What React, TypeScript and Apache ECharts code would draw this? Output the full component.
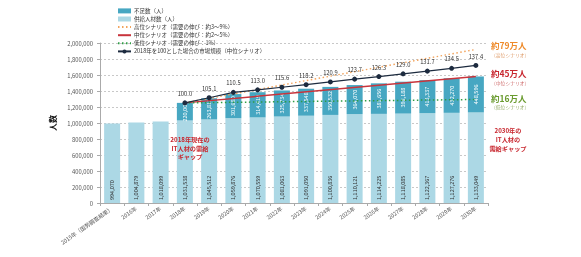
import React, { useEffect, useRef } from "react";
import * as echarts from "echarts";

const years = [
  "2015年（国勢調査結果）", "2016年", "2017年", "2018年", "2019年", "2020年", "2021年", "2022年",
  "2023年", "2024年", "2025年", "2026年", "2027年", "2028年", "2029年", "2030年",
];
const supply = [
  994070, 1004879, 1018099, 1031538, 1045512, 1059876, 1070559, 1081063,
  1091050, 1100836, 1110121, 1114225, 1118085, 1122367, 1127276, 1133049,
];
const shortage = [
  null, null, null, 220000, 263813, 301680, 314419, 325734,
  337548, 350532, 364070, 381656, 398188, 413337, 432270, 448596,
];
// demand under each scenario (2018 actual, 2030 projection)
const highScenario = [null, null, null, 1251538, null, null, null, null, null, null, null, null, null, null, null, 1920049];
const midScenario = [null, null, null, 1251538, null, null, null, null, null, null, null, null, null, null, null, 1581645];
const lowScenario = [null, null, null, 1251538, null, null, null, null, null, null, null, null, null, null, null, 1294049];
// market size index, 2018 = 100
const marketIndex = [null, null, null, 100.0, 105.1, 110.5, 113.0, 115.6, 118.2, 120.9, 123.7, 126.3, 129.0, 131.7, 134.5, 137.4];

const FONT = "'Noto Sans CJK JP', 'Noto Sans', sans-serif";
const AXIS_MAX = 2000000;
const BASE_2018 = 1251538;

const fmt = (v: number) => v.toLocaleString("en-US");
const noSymbol = { color: "rgba(0,0,0,0)", borderWidth: 0, opacity: 0 };

export default function App() {
  const ref = useRef<HTMLDivElement>(null);
  useEffect(() => {
    if (!ref.current) return;
    const chart = echarts.init(ref.current, null, { renderer: "svg" });
    const txt = (text: string, x: number, y: number, fill: string, size: number, bold = true, align = "left") => ({
      type: "text",
      x,
      y,
      z: 100,
      style: {
        text,
        fill,
        font: `${bold ? "bold " : ""}${size}px ${FONT}`,
        textAlign: align,
        textVerticalAlign: "middle",
      },
    });
    chart.setOption({
      animation: false,
      textStyle: { fontFamily: FONT },
      grid: { left: 100, top: 43, width: 388, height: 160 },
      legend: {
        orient: "vertical",
        left: 112,
        top: 3,
        itemWidth: 13,
        itemHeight: 5,
        itemGap: 2.3,
        textStyle: { fontSize: 5.5, color: "#333", lineHeight: 5.8, padding: [0, 0, 0, -2] },
        data: [
          { name: "不足数（人）", icon: "rect" },
          { name: "供給人材数（人）", icon: "rect" },
          { name: "高位シナリオ（需要の伸び：約3～9%）", itemStyle: noSymbol },
          { name: "中位シナリオ（需要の伸び：約2～5%）", itemStyle: noSymbol },
          { name: "低位シナリオ（需要の伸び：1%）", itemStyle: noSymbol },
          "2018年を100とした場合の市場規模（中位シナリオ）",
        ],
      },
      xAxis: {
        type: "category",
        data: years,
        axisLine: { lineStyle: { color: "#aaa" } },
        axisTick: { show: true, lineStyle: { color: "#aaa" }, length: 3 },
        axisLabel: { rotate: 35, fontSize: 5.5, color: "#555", margin: 5, interval: 0 },
      },
      yAxis: [
        {
          type: "value",
          min: 0,
          max: AXIS_MAX,
          interval: 200000,
          name: "人数",
          nameLocation: "middle",
          nameRotate: 90,
          nameGap: 34,
          nameTextStyle: { fontSize: 8, fontWeight: "bold", color: "#111" },
          axisLine: { show: true, lineStyle: { color: "#aaa" } },
          axisTick: { show: true, length: 3, lineStyle: { color: "#aaa" } },
          axisLabel: { fontSize: 5.8, color: "#555", margin: 7, formatter: (v: number) => fmt(v) },
          splitLine: { lineStyle: { color: "#c8c8c8", type: [2, 2] } },
        },
        {
          type: "value",
          min: 0,
          max: (100 * AXIS_MAX) / BASE_2018,
          show: false,
          splitLine: { show: false },
        },
      ],
      series: [
        {
          name: "供給人材数（人）",
          type: "bar",
          stack: "total",
          data: supply,
          barCategoryGap: "34%",
          itemStyle: { color: "#acd8e5" },
          label: {
            show: true,
            position: "insideBottom",
            rotate: 90,
            align: "left",
            verticalAlign: "middle",
            distance: 3,
            fontSize: 5.5,
            color: "#333",
            formatter: (p: any) => fmt(p.value),
          },
        },
        {
          name: "不足数（人）",
          type: "bar",
          stack: "total",
          data: shortage,
          itemStyle: { color: "#47a7c2" },
          label: {
            show: true,
            position: "inside",
            rotate: 90,
            fontSize: 5.5,
            color: "#fff",
            formatter: (p: any) => (p.value == null ? "" : fmt(p.value)),
          },
        },
        {
          name: "高位シナリオ（需要の伸び：約3～9%）",
          type: "line",
          data: highScenario,
          connectNulls: true,
          symbol: "none",
          lineStyle: { color: "#f2a35c", width: 1.4, type: [1.5, 2.5] },
          itemStyle: { color: "#f2a35c" },
        },
        {
          name: "中位シナリオ（需要の伸び：約2～5%）",
          type: "line",
          data: midScenario,
          connectNulls: true,
          symbol: "none",
          lineStyle: { color: "#c8343c", width: 1.5 },
          itemStyle: { color: "#c8343c" },
        },
        {
          name: "低位シナリオ（需要の伸び：1%）",
          type: "line",
          data: lowScenario,
          connectNulls: true,
          symbol: "none",
          lineStyle: { color: "#2f9c45", width: 1.5, type: [1.5, 2.5] },
          itemStyle: { color: "#2f9c45" },
        },
        {
          name: "2018年を100とした場合の市場規模（中位シナリオ）",
          type: "line",
          yAxisIndex: 1,
          data: marketIndex,
          symbol: "circle",
          symbolSize: 5,
          z: 10,
          lineStyle: { color: "#1d2b3f", width: 1.2 },
          itemStyle: { color: "#1d2b3f" },
          label: {
            show: true,
            position: "top",
            distance: 4,
            fontSize: 5.8,
            color: "#333",
            formatter: (p: any) => Number(p.value).toFixed(1),
          },
        },
      ],
      graphic: [
        txt("約79万人", 491, 45, "#ee8a2a", 8.5),
        txt("（高位シナリオ）", 491, 54, "#e0a070", 4.8, false),
        txt("約45万人", 491, 73, "#c8272f", 8.5),
        txt("（中位シナリオ）", 491, 82, "#d07070", 4.8, false),
        txt("約16万人", 491, 98, "#6a9b2f", 8.5),
        txt("（低位シナリオ）", 491, 106, "#9ab070", 4.8, false),
        txt("2030年の", 508, 130, "#c8272f", 6.2, true, "center"),
        txt("IT人材の", 508, 139, "#c8272f", 6.2, true, "center"),
        txt("需給ギャップ", 508, 148, "#c8272f", 6.2, true, "center"),
        txt("2018年現在の", 190, 139.5, "#c8272f", 6.2, true, "center"),
        txt("IT人材の需給", 190, 148, "#c8272f", 6.2, true, "center"),
        txt("ギャップ", 190, 156.5, "#c8272f", 6.2, true, "center"),
      ],
    });
    return () => chart.dispose();
  }, []);
  return <div ref={ref} style={{ position: "fixed", left: 0, top: 0, width: 581, height: 257 }} />;
}
